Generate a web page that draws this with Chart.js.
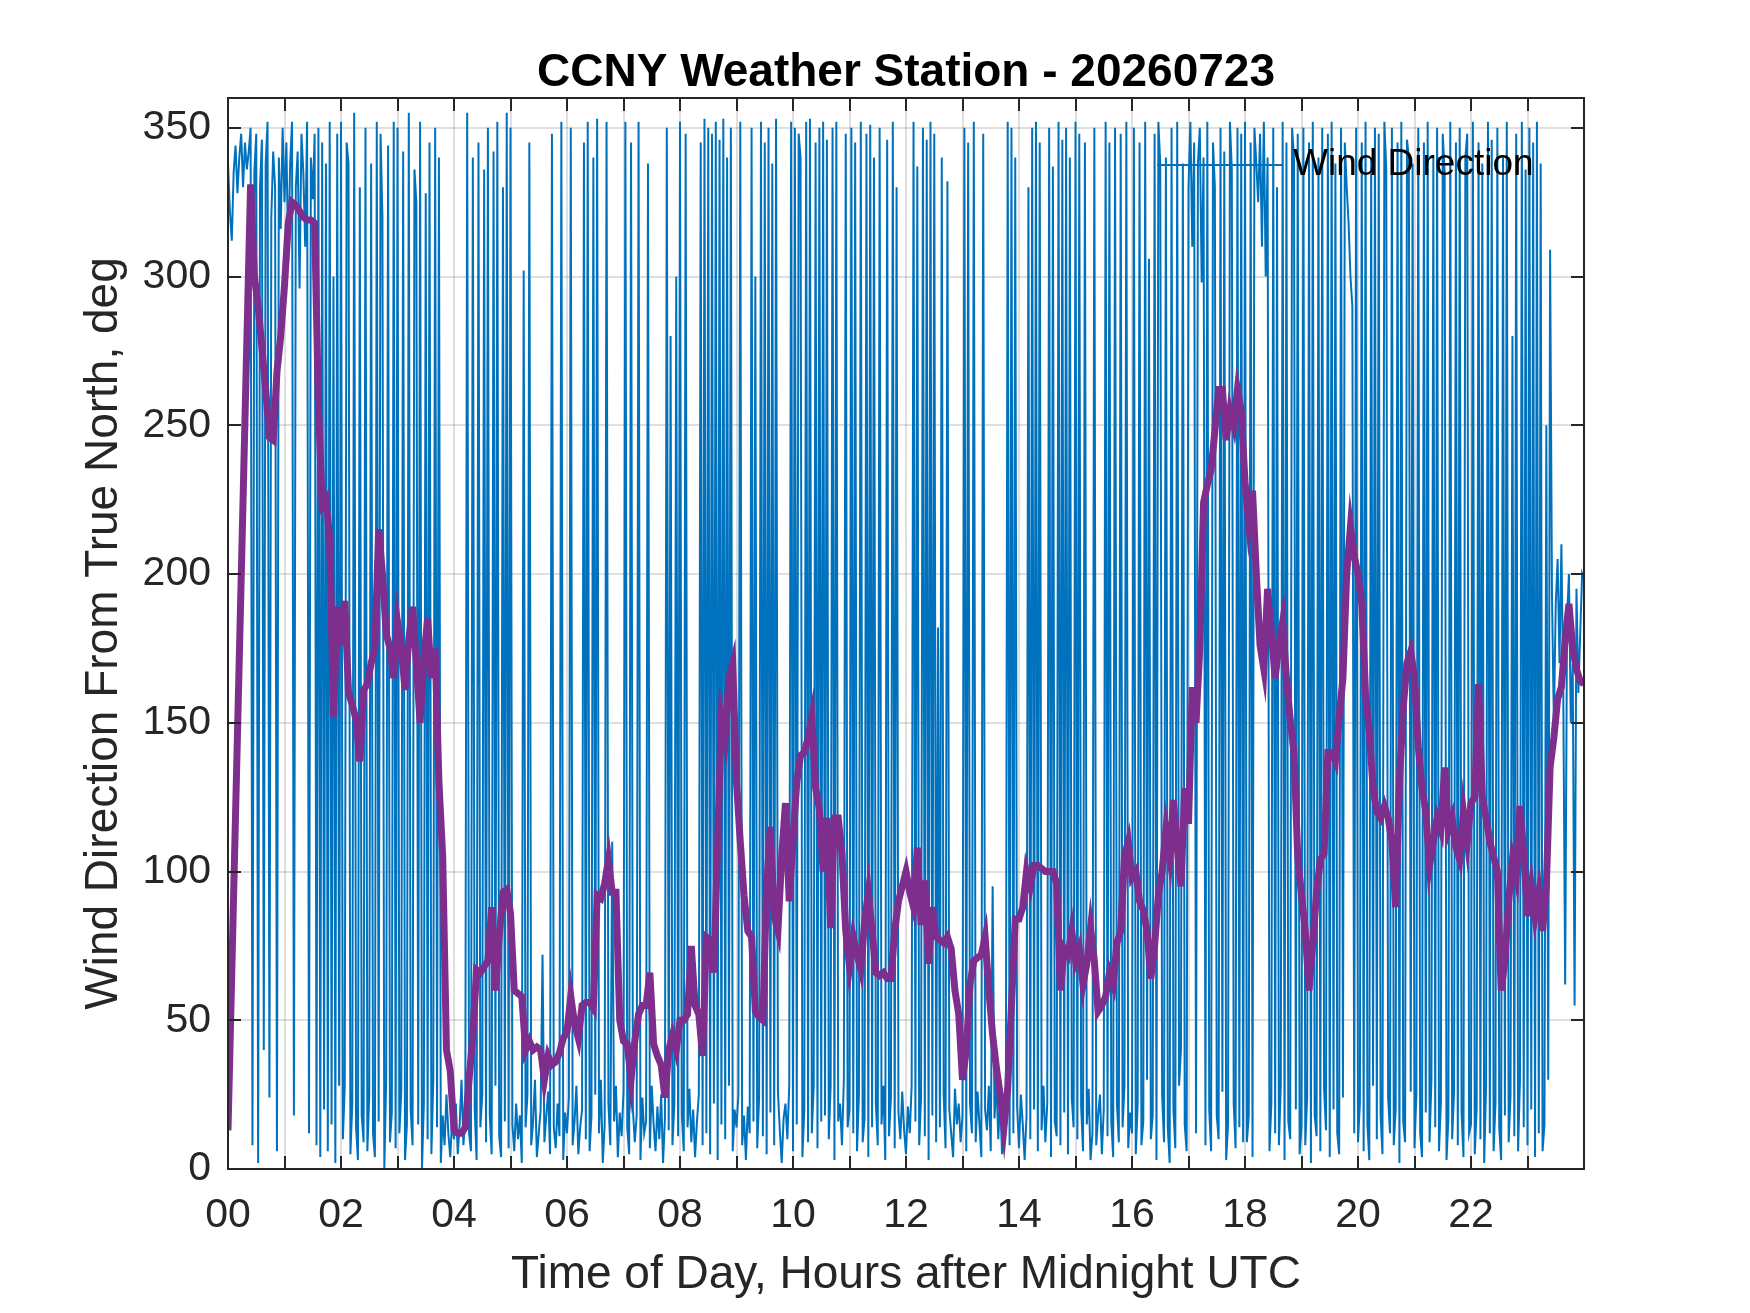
<!DOCTYPE html>
<html>
<head>
<meta charset="utf-8">
<script src="https://cdn.jsdelivr.net/npm/chart.js"></script>
<style>
html,body{margin:0;padding:0;background:#fff;}
#wrap{width:1750px;height:1313px;position:relative;}
canvas{display:block;}
</style>
</head>
<body>
<div id="wrap"><canvas id="c" width="1750" height="1313"></canvas></div>
<script>
// ---------------- text ----------------
const chartTitle = 'CCNY Weather Station - 20260723';
const xAxisTitle = 'Time of Day, Hours after Midnight UTC';
const yAxisTitle = 'Wind Direction From True North, deg';
const legendLabel = 'Wind Direction';

// ---------------- axes ----------------
const xTickLabels = ['00','','02','','04','','06','','08','','10','','12','','14','','16','','18','','20','','22','',''];
const yTickValues = [0,50,100,150,200,250,300,350];
const xMinHours = 0, xMaxHours = 24;
const yMinDeg = 0, yMaxDeg = 360;

// ---------------- raw wind direction, one value every 2 minutes (deg) ----------------
const rawStepMinutes = 2;
const windDir00to06 = [
 338,322,312,335,344,328,340,348,330,345,336,342,350,8,335,348,2,330,346,40,338,352,24,320,342,330,6,340,316,350,
 325,345,305,338,352,18,330,342,296,348,335,310,352,12,340,326,348,8,350,4,345,20,338,6,352,15,300,2,348,28,
 352,10,28,345,338,5,22,355,14,3,330,18,9,350,6,25,338,12,4,352,16,348,320,0,30,344,9,19,352,7,
 350,12,26,342,3,15,355,20,8,336,325,15,352,0,22,328,10,345,5,30,350,14,340,2,18,8,25,12,4,16,
 10,22,5,15,30,8,18,355,12,6,340,20,3,345,14,25,336,9,350,18,5,342,28,352,11,4,330,16,355,7,
 350,15,6,22,10,18,2,302,14,25,345,8,16,30,4,12,20,72,9,18,26,5,348,14,7,22,11,352,3,19
];
const windDir06to12 = [
 12,24,350,8,16,28,5,14,20,345,10,352,6,18,340,25,353,12,30,2,15,352,22,8,110,16,28,4,19,11,
 26,352,14,5,345,20,9,18,352,3,24,12,16,338,7,28,15,6,21,10,25,2,17,350,13,280,8,22,300,11,
 352,18,6,348,14,27,9,20,4,16,25,345,8,353,12,350,5,348,22,352,3,346,15,353,10,340,28,350,6,20,
 14,25,352,8,18,3,21,12,350,16,300,7,24,352,11,345,5,350,19,338,8,353,26,13,2,17,22,10,28,352,
 6,350,15,348,340,4,20,352,9,353,12,28,345,7,350,16,352,18,346,10,28,350,3,352,16,22,8,30,348,14,
 20,350,12,345,6,25,352,9,17,348,4,351,14,340,22,8,350,15,28,3,346,11,24,352,7,330,19,10,26,13
];
const windDir12to18 = [
 5,21,12,28,352,16,337,8,24,350,11,346,3,352,18,348,9,182,14,340,25,7,332,20,12,4,27,15,22,9,
 18,350,6,345,22,12,352,9,26,15,4,348,20,13,28,6,95,17,30,10,24,5,19,14,352,8,350,12,340,21,
 7,25,15,3,18,330,10,350,20,352,6,345,13,28,9,22,350,4,337,16,11,352,8,346,19,350,5,340,24,14,
 352,10,348,21,6,345,15,27,3,12,350,8,18,25,5,20,352,11,345,16,4,350,22,9,348,14,28,352,7,19,
 12,350,5,22,345,8,16,352,30,306,10,18,348,3,352,338,25,9,340,14,2,350,20,7,352,28,40,338,15,6,
 330,352,310,345,12,338,350,298,340,8,352,20,6,345,330,18,10,350,26,342,3,15,352,336,22,7,350,14,348,9
];
const windDir18to24 = [
 352,9,18,345,4,350,338,325,348,310,352,300,340,6,22,350,12,330,8,28,352,3,345,16,10,350,340,20,348,5,
 14,350,8,24,345,2,352,18,11,340,6,350,27,13,348,4,352,20,338,12,5,350,24,345,330,318,300,290,12,350,
 9,22,345,6,352,15,3,340,28,350,10,348,18,5,352,336,24,12,350,8,20,345,2,352,16,9,346,340,26,338,
 7,25,350,12,4,345,19,352,9,30,340,14,350,6,22,348,335,3,17,352,10,26,345,8,350,19,4,340,348,12,
 15,352,5,20,345,10,338,2,28,352,12,346,6,22,350,14,3,340,18,352,9,25,280,11,348,6,30,352,14,336,
 8,350,20,345,4,352,12,338,6,15,250,30,309,193,150,190,205,170,210,160,62,185,200,150,170,55,195,160,180,200,
 198
];

// ---------------- smoothed wind direction, one value every 4 minutes (deg) ----------------
const smoothStepMinutes = 4;
const smoothDir00to06 = [
 13,null,null,null,null,null,331,300,290,276,262,246,245,268,280,
 297,318,325,324,322,320,319,319,318,257,223,225,212,152,189,
 176,191,160,156,151,137,161,163,170,175,215,200,180,175,165,
 184,175,161,178,189,170,150,172,185,165,175,130,105,40,33,
 13,12,12,14,30,45,67,66,68,70,88,60,78,93,94,
 86,60,59,58,40,43,40,41,40,30,38,35,36,39,44
];
const smoothDir06to12 = [
 46,58,49,44,55,56,56,54,92,91,96,104,93,93,50,
 43,42,30,43,52,55,55,66,42,38,35,24,40,45,40,
 50,50,52,75,55,52,38,78,77,66,110,152,145,165,170,
 130,110,92,80,78,53,51,50,95,115,85,80,105,123,90,
 111,130,139,140,145,152,128,121,100,118,81,118,118,106,80,
 68,78,72,67,83,93,80,66,65,66,64,64,80,90,95
];
const smoothDir12to18 = [
 100,93,88,108,82,97,69,88,78,77,76,78,74,60,52,
 30,40,62,70,71,72,78,60,45,34,25,14,27,55,84,
 84,88,100,95,102,102,101,100,100,100,96,60,74,72,80,
 70,74,62,69,81,70,53,55,58,66,62,76,80,105,110,
 98,100,90,87,80,64,75,92,100,114,105,124,108,95,128,
 116,162,150,175,224,230,235,248,262,262,245,255,250,262,255
];
const smoothDir18to24 = [
 231,217,228,200,176,168,195,180,165,176,184,165,151,140,105,
 92,80,60,76,93,104,106,140,140,137,152,165,200,216,206,
 200,190,160,147,128,120,118,122,118,110,88,130,155,170,174,
 165,142,128,120,102,110,118,114,135,114,118,108,104,120,110,
 123,125,163,125,118,110,105,100,60,70,90,104,98,122,106,
 85,95,85,93,80,95,135,145,158,162,178,190,175,168,164,
 163
];

// ---------------- build series ----------------
const rawValues = [].concat(windDir00to06, windDir06to12, windDir12to18, windDir18to24);
const smoothValues = [].concat(smoothDir00to06, smoothDir06to12, smoothDir12to18, smoothDir18to24);
const rawPoints = rawValues.map((v, i) => ({x: i * rawStepMinutes / 60, y: v}));
const smoothPoints = smoothValues.map((v, i) => ({x: i * smoothStepMinutes / 60, y: v}));

const FONT = "'Liberation Sans', Arial, Helvetica, sans-serif";
const AXIS_COLOR = '#262626';
const GRID_COLOR = 'rgba(38,38,38,0.15)';
const BLUE = '#0072BD';
const PURPLE = '#7E2F8E';

const matlabFrame = {
  id: 'matlabFrame',
  afterDatasetsDraw(chart) {
    const {ctx, chartArea: a, scales: {x, y}} = chart;
    const tl = 13;
    ctx.save();
    ctx.strokeStyle = AXIS_COLOR;
    ctx.lineWidth = 2;
    ctx.beginPath();
    x.ticks.forEach(t => {
      const px = Math.round(x.getPixelForValue(t.value));
      ctx.moveTo(px, a.bottom); ctx.lineTo(px, a.bottom - tl);
      ctx.moveTo(px, a.top); ctx.lineTo(px, a.top + tl);
    });
    y.ticks.forEach(t => {
      const py = Math.round(y.getPixelForValue(t.value));
      ctx.moveTo(a.left, py); ctx.lineTo(a.left + tl, py);
      ctx.moveTo(a.right, py); ctx.lineTo(a.right - tl, py);
    });
    ctx.stroke();
    ctx.strokeRect(a.left, a.top, a.right - a.left, a.bottom - a.top);

    // legend (box off, no background), top-right inside the axes
    const ds = chart.data.datasets.find(d => d.label === legendLabel);
    const ly = a.top + 67;
    ctx.strokeStyle = ds.borderColor;
    ctx.lineWidth = ds.borderWidth;
    ctx.beginPath();
    ctx.moveTo(a.right - 427, ly);
    ctx.lineTo(a.right - 301, ly);
    ctx.stroke();
    ctx.fillStyle = '#000';
    ctx.font = '37px ' + FONT;
    ctx.textAlign = 'left';
    ctx.textBaseline = 'middle';
    ctx.fillText(ds.label, a.right - 291, ly);
    ctx.restore();
  }
};

new Chart(document.getElementById('c'), {
  type: 'line',
  data: {
    datasets: [
      {
        label: 'Smoothed',
        data: smoothPoints,
        borderColor: PURPLE,
        backgroundColor: PURPLE,
        borderWidth: 7,
        pointRadius: 0,
        tension: 0,
        spanGaps: true,
        order: 0
      },
      {
        label: legendLabel,
        data: rawPoints,
        borderColor: BLUE,
        backgroundColor: BLUE,
        borderWidth: 2,
        pointRadius: 0,
        tension: 0,
        order: 1
      }
    ]
  },
  options: {
    responsive: false,
    devicePixelRatio: 1,
    animation: false,
    events: [],
    layout: {padding: {left: 0, right: 166, top: 0, bottom: 0}},
    plugins: {
      legend: {display: false},
      tooltip: {enabled: false},
      title: {
        display: true,
        fullSize: false,
        text: chartTitle,
        color: '#000',
        font: {family: FONT, size: 46, weight: 'bold', lineHeight: 1.0},
        padding: {top: 50, bottom: 2}
      }
    },
    scales: {
      x: {
        type: 'linear',
        min: xMinHours,
        max: xMaxHours,
        afterFit: s => { s.height = 144; },
        border: {display: false},
        grid: {color: GRID_COLOR, lineWidth: 2, drawTicks: false},
        ticks: {
          stepSize: 1,
          maxTicksLimit: 100,
          autoSkip: false,
          maxRotation: 0,
          minRotation: 0,
          padding: 22,
          color: AXIS_COLOR,
          font: {family: FONT, size: 41, lineHeight: 1.2},
          callback: (v, i) => (xTickLabels[i] !== undefined ? xTickLabels[i] : '')
        },
        title: {
          display: true,
          text: xAxisTitle,
          color: AXIS_COLOR,
          font: {family: FONT, size: 46, lineHeight: 1.2},
          padding: {top: 0, bottom: 10}
        }
      },
      y: {
        type: 'linear',
        min: yMinDeg,
        max: yMaxDeg,
        afterFit: s => { s.width = 228; },
        border: {display: false},
        grid: {color: GRID_COLOR, lineWidth: 2, drawTicks: false},
        afterBuildTicks: s => { s.ticks = yTickValues.map(v => ({value: v})); },
        ticks: {
          stepSize: 50,
          maxTicksLimit: 100,
          autoSkip: false,
          padding: 17,
          color: AXIS_COLOR,
          font: {family: FONT, size: 41, lineHeight: 1.2}
        },
        title: {
          display: true,
          text: yAxisTitle,
          color: AXIS_COLOR,
          font: {family: FONT, size: 46, lineHeight: 1.2},
          padding: {top: 77, bottom: 0}
        }
      }
    }
  },
  plugins: [matlabFrame]
});
</script>
</body>
</html>
